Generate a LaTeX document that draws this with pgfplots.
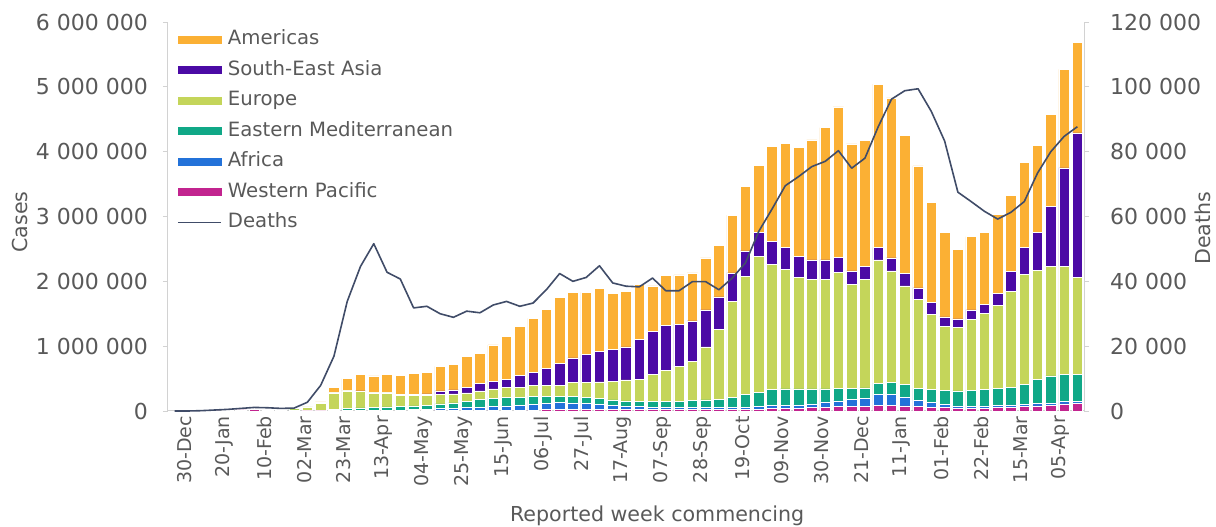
\documentclass[border=0pt]{standalone}
\usepackage{pgfplots}
\usepackage{pgfplotstable}
\pgfplotsset{compat=1.18}
\usepackage{fontspec}
\setmainfont{DejaVu Sans}
\definecolor{amc}{RGB}{251,176,52}
\definecolor{seac}{RGB}{75,10,165}
\definecolor{euc}{RGB}{196,213,90}
\definecolor{emc}{RGB}{16,168,135}
\definecolor{afc}{RGB}{35,114,217}
\definecolor{wpc}{RGB}{194,36,143}
\definecolor{dthc}{RGB}{64,76,104}
\definecolor{axc}{RGB}{210,210,210}
\definecolor{txc}{RGB}{89,89,89}
\pgfplotstableread{
x wp af em eu sea am deaths
0 0 0 0 0 0 0 0
1 0 0 0 0 0 0 0
2 0.0003 0 0 0 0 0 100
3 0.003 0 0 0 0 0 300
4 0.012 0 0 0 0 0 500
5 0.018 0 0 0 0 0 800
6 0.02 0 0 0 0 0 1100
7 0.010 0 0.001 0.001 0 0 1000
8 0.005 0 0.008 0.008 0 0.001 800
9 0.004 0 0.012 0.03 0 0.004 900
10 0.002 0 0.010 0.050 0 0.010 2700
11 0.003 0 0.012 0.105 0.001 0.020 7900
12 0.005 0.002 0.020 0.253 0.002 0.088 16900
13 0.007 0.003 0.030 0.270 0.005 0.185 33800
14 0.008 0.004 0.035 0.253 0.010 0.250 44600
15 0.008 0.005 0.040 0.227 0.010 0.250 51600
16 0.008 0.006 0.050 0.216 0.010 0.270 42800
17 0.008 0.007 0.055 0.170 0.015 0.295 40700
18 0.010 0.010 0.060 0.160 0.020 0.320 31800
19 0.010 0.015 0.065 0.150 0.025 0.325 32300
20 0.010 0.030 0.070 0.150 0.050 0.380 30000
21 0.010 0.035 0.080 0.140 0.060 0.395 28900
22 0.010 0.040 0.100 0.130 0.090 0.470 30800
23 0.010 0.050 0.120 0.130 0.110 0.470 30300
24 0.010 0.060 0.130 0.140 0.120 0.560 32700
25 0.010 0.070 0.130 0.150 0.130 0.660 33800
26 0.010 0.080 0.120 0.160 0.180 0.760 32300
27 0.015 0.090 0.120 0.165 0.210 0.830 33300
28 0.020 0.100 0.110 0.170 0.260 0.910 37400
29 0.020 0.110 0.100 0.170 0.330 1.020 42400
30 0.025 0.100 0.095 0.220 0.380 1.010 40000
31 0.025 0.090 0.090 0.235 0.430 0.960 41200
32 0.030 0.075 0.085 0.260 0.470 0.970 44800
33 0.030 0.060 0.080 0.290 0.490 0.860 39500
34 0.025 0.050 0.080 0.325 0.510 0.860 38500
35 0.020 0.045 0.080 0.345 0.610 0.850 38300
36 0.020 0.040 0.085 0.415 0.670 0.700 41000
37 0.020 0.035 0.095 0.480 0.690 0.770 37100
38 0.020 0.030 0.100 0.540 0.650 0.760 37100
39 0.020 0.030 0.110 0.610 0.620 0.740 39900
40 0.020 0.030 0.120 0.820 0.570 0.800 39900
41 0.025 0.030 0.130 1.075 0.500 0.790 37400
42 0.025 0.030 0.150 1.485 0.440 0.890 41000
43 0.025 0.035 0.190 1.830 0.390 0.990 45700
44 0.030 0.040 0.220 2.090 0.370 1.040 55400
45 0.035 0.050 0.245 1.930 0.360 1.460 62300
46 0.040 0.050 0.250 1.840 0.340 1.610 69500
47 0.045 0.050 0.245 1.720 0.330 1.670 72300
48 0.050 0.060 0.230 1.690 0.300 1.850 75400
49 0.060 0.080 0.200 1.690 0.300 2.040 77000
50 0.065 0.090 0.190 1.795 0.230 2.320 80300
51 0.070 0.110 0.170 1.600 0.210 1.960 74900
52 0.075 0.120 0.160 1.675 0.200 1.940 78000
53 0.090 0.160 0.180 1.900 0.190 2.520 87700
54 0.090 0.160 0.190 1.720 0.200 2.470 96200
55 0.080 0.130 0.200 1.520 0.190 2.130 98800
56 0.070 0.090 0.190 1.370 0.180 1.880 99400
57 0.060 0.070 0.200 1.160 0.180 1.550 92400
58 0.050 0.050 0.220 0.990 0.140 1.310 83300
59 0.040 0.040 0.230 0.980 0.130 1.070 67500
60 0.040 0.035 0.245 1.090 0.150 1.130 64600
61 0.045 0.035 0.250 1.170 0.140 1.120 61600
62 0.050 0.035 0.265 1.280 0.180 1.220 59200
63 0.060 0.035 0.275 1.480 0.300 1.180 61300
64 0.070 0.035 0.305 1.700 0.410 1.310 64600
65 0.080 0.035 0.375 1.680 0.580 1.350 73400
66 0.090 0.035 0.415 1.690 0.930 1.420 80000
67 0.110 0.035 0.415 1.670 1.520 1.520 84700
68 0.115 0.035 0.410 1.500 2.230 1.390 87700
}\data
\begin{document}
\begin{tikzpicture}
\path[use as bounding box] (0,0) rectangle (1216pt,527pt);
\begin{axis}[
  at={(168pt,116pt)}, anchor=south west,
  width=916pt, height=389pt, scale only axis,
  ybar stacked, bar width=10.5pt,
  xmin=-0.5, xmax=68.5, ymin=0, ymax=6,
  axis x line*=bottom, axis y line*=left,
  axis line style={draw=axc, line width=1pt, -},
  xtick={0,3,...,66},
  xticklabels={30-Dec,20-Jan,10-Feb,02-Mar,23-Mar,13-Apr,04-May,25-May,15-Jun,06-Jul,27-Jul,17-Aug,07-Sep,28-Sep,19-Oct,09-Nov,30-Nov,21-Dec,11-Jan,01-Feb,22-Feb,15-Mar,05-Apr},
  minor xtick={-0.5,0.5,...,68.5},
  tick align=outside,
  major tick length=5pt, minor tick length=6pt,
  xtick style={draw=none},
  minor tick style={draw=axc, line width=0.8pt},
  ytick style={draw=axc, line width=0.8pt},
  ytick={0,1,...,6},
  yticklabels={0,1 000 000,2 000 000,3 000 000,4 000 000,5 000 000,6 000 000},
  /pgf/number format/assume math mode=true,
  x tick label style={rotate=90, anchor=east, font=\fontsize{19}{21}\selectfont, text=txc, inner sep=0pt, yshift=-10pt},
  y tick label style={anchor=east, font=\fontsize{22}{24}\selectfont, text=txc, inner sep=0pt, xshift=-15pt},
  xlabel={Reported week commencing},
  ylabel={Cases},
  every axis x label/.style={at={(axis description cs:0.534,-0.27)}, anchor=center, font=\fontsize{20.6}{22}\selectfont, text=txc},
  every axis y label/.style={at={(axis description cs:-0.1616,0.486)}, anchor=center, rotate=90, font=\fontsize{20.6}{22}\selectfont, text=txc},
  clip=false,
]
\addplot[fill=wpc, draw=white, line width=0.6pt] table[x=x,y=wp]{\data};
\addplot[fill=afc, draw=white, line width=0.6pt] table[x=x,y=af]{\data};
\addplot[fill=emc, draw=white, line width=0.6pt] table[x=x,y=em]{\data};
\addplot[fill=euc, draw=white, line width=0.6pt] table[x=x,y=eu]{\data};
\addplot[fill=seac, draw=white, line width=0.6pt] table[x=x,y=sea]{\data};
\addplot[fill=amc, draw=white, line width=0.6pt] table[x=x,y=am]{\data};
\end{axis}
\begin{axis}[
  at={(168pt,116pt)}, anchor=south west,
  width=916pt, height=389pt, scale only axis,
  xmin=-0.5, xmax=68.5, ymin=0, ymax=120000,
  axis x line=none,
  axis y line*=right,
  axis line style={draw=axc, line width=1pt, -},
  tick align=outside, major tick length=5pt,
  ytick style={draw=axc, line width=0.8pt},
  ytick={0,20000,40000,60000,80000,100000,120000},
  yticklabels={0,20 000,40 000,60 000,80 000,100 000,120 000},
  scaled y ticks=false,
  /pgf/number format/assume math mode=true,
  y tick label style={anchor=west, font=\fontsize{22}{24}\selectfont, text=txc, inner sep=0pt, xshift=21pt},
  ylabel={Deaths},
  every axis y label/.style={at={(axis description cs:1.13,0.47)}, anchor=center, rotate=90, font=\fontsize{20.6}{22}\selectfont, text=txc},
  legend style={at={(axis description cs:0,1)}, anchor=north west, xshift=6pt, yshift=-6pt, draw=none, fill=none,
    font=\fontsize{19.7}{21}\selectfont, text=txc, row sep=12pt, column sep=6.5pt,
    nodes={inner sep=0pt, text height=14.5pt, text depth=4pt}},
  legend cell align=left,
  clip=false,
]
\addlegendimage{legend image code/.code={\fill[amc] (0pt,-3.5pt) rectangle (43pt,3.5pt);}}
\addlegendentry{Americas}
\addlegendimage{legend image code/.code={\fill[seac] (0pt,-3.5pt) rectangle (43pt,3.5pt);}}
\addlegendentry{South-East Asia}
\addlegendimage{legend image code/.code={\fill[euc] (0pt,-3.5pt) rectangle (43pt,3.5pt);}}
\addlegendentry{Europe}
\addlegendimage{legend image code/.code={\fill[emc] (0pt,-3.5pt) rectangle (43pt,3.5pt);}}
\addlegendentry{Eastern Mediterranean}
\addlegendimage{legend image code/.code={\fill[afc] (0pt,-3.5pt) rectangle (43pt,3.5pt);}}
\addlegendentry{Africa}
\addlegendimage{legend image code/.code={\fill[wpc] (0pt,-3.5pt) rectangle (43pt,3.5pt);}}
\addlegendentry{Western Pacific}
\addplot[dthc, line width=1.6pt, line join=round, mark=none,
  legend image code/.code={\draw[dthc, line width=1.2pt] (0pt,0pt) -- (43pt,0pt);}] table[x=x,y=deaths]{\data};
\addlegendentry{Deaths}
\end{axis}
\end{tikzpicture}
\end{document}
